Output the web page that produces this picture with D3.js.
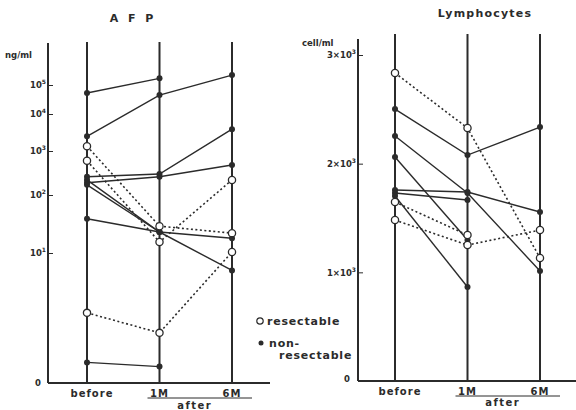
<!DOCTYPE html>
<html lang="en">
<head>
<meta charset="UTF-8">
<title>AFP and Lymphocytes</title>
<script src="https://cdnjs.cloudflare.com/ajax/libs/d3/7.8.5/d3.min.js"></script>
<style>
    body { margin: 0; background: #fff; }
    svg text { font-family: "DejaVu Sans", sans-serif; fill: #2b2b2b; }
</style>
</head>
<body>
<svg id="main" width="576" height="410"></svg>
<script>
    // time points, one column each
    const timepoints = ["before", "1M", "6M"];

    // AFP in ng/ml, one row per patient (null = not measured)
    const afpResectable = [
        [1350, 29, 22],
        [600, 15.5, 220],
        [0.93, 0.42, 10.4]
    ];
    const afpNonResectable = [
        [53000, 170000, null],
        [2500, 45000, 220000],
        [260, 300, 3900],
        [190, 260, 480],
        [220, 23, 18],
        [170, 23, null],
        [39, 23, 5],
        [0.13, 0.11, null]
    ];
    const afpTickExponents = [1, 2, 3, 4, 5];

    // lymphocytes in cells/ml
    const lymResectable = [
        [2834, 2328, 1132],
        [1647, 1343, null],
        [1481, 1251, 1389]
    ];
    const lymNonResectable = [
        [2502, 2079, 2337],
        [2254, 1730, 1012],
        [2061, 1297, null],
        [1757, 1739, 1555],
        [1730, 1665, null],
        [1702, 865, null]
    ];
    const lymTicks = [1000, 2000, 3000];

    const svg = d3.select("svg#main");
    const ink = "#2b2b2b";

    // AFP axis is a hand drawn log axis, decades are not evenly spaced
    const afpPos = d3.scaleLinear().domain([1, 2, 3, 4, 5]).range([253, 195, 151, 114, 85]);
    const afpY = v => afpPos(Math.log10(v));
    const lymY = d3.scaleLinear().domain([0, 3000]).range([381, 55]);

    const panels = [
        {
            title: "A F P", titleX: 133, titleY: 22, titleSpacing: 3,
            unit: "ng/ml", unitX: 5, unitY: 58,
            axisX: 48, top: 43, bottom: 383, right: 270, colTop: 42,
            x: d3.scalePoint().domain(timepoints).range([87, 232]),
            y: afpY, ticks: afpPos, tickValues: afpTickExponents,
            label: d => ["10", String(d)],
            zeroX: 38, zeroY: 386,
            res: afpResectable, non: afpNonResectable,
            labelY: 397, afterY: 409
        },
        {
            title: "Lymphocytes", titleX: 485, titleY: 17, titleSpacing: 1.2,
            unit: "cell/ml", unitX: 302, unitY: 46,
            axisX: 358, top: 39, bottom: 381, right: 576, colTop: 34,
            x: d3.scalePoint().domain(timepoints).range([395, 540]),
            y: lymY, ticks: lymY, tickValues: lymTicks,
            label: d => [(d / 1000) + "\u00d710", "3"],
            zeroX: 347, zeroY: 382,
            res: lymResectable, non: lymNonResectable,
            labelY: 395, afterY: 406
        }
    ];

    panels.forEach(p => {
        let g = svg.append("g");

        // title and unit
        g.append("text").attr("x", p.titleX).attr("y", p.titleY)
            .attr("text-anchor", "middle").attr("font-size", 11).attr("font-weight", "bold")
            .attr("letter-spacing", p.titleSpacing).text(p.title);
        g.append("text").attr("x", p.unitX).attr("y", p.unitY)
            .attr("font-size", 8.5).attr("font-weight", "bold").text(p.unit);

        // y axis
        g.append("line").attr("x1", p.axisX).attr("x2", p.axisX)
            .attr("y1", p.top).attr("y2", p.bottom)
            .attr("stroke", ink).attr("stroke-width", 2);
        let ax = g.append("g").attr("transform", "translate(" + p.axisX + ",0)")
            .call(d3.axisLeft(p.ticks).tickValues(p.tickValues)
                .tickSizeInner(-5).tickSizeOuter(0).tickPadding(2).tickFormat(""));
        ax.select(".domain").remove();
        ax.selectAll(".tick line").attr("stroke", ink).attr("stroke-width", 1);
        ax.selectAll(".tick text").each(function (d) {
            let parts = p.label(d);
            let t = d3.select(this).attr("font-size", 8.5).attr("font-weight", "bold")
                .attr("fill", ink).attr("font-family", "DejaVu Sans");
            t.append("tspan").text(parts[0]);
            t.append("tspan").attr("dy", -4).attr("font-size", 6).text(parts[1]);
        });
        g.append("text").attr("x", p.zeroX).attr("y", p.zeroY)
            .attr("text-anchor", "middle").attr("font-size", 8.5).attr("font-weight", "bold").text("0");

        // x axis and columns
        g.append("line").attr("x1", p.axisX).attr("x2", p.right)
            .attr("y1", p.bottom).attr("y2", p.bottom)
            .attr("stroke", ink).attr("stroke-width", 2);
        g.selectAll(".col").data(timepoints).enter().append("line")
            .attr("x1", d => p.x(d)).attr("x2", d => p.x(d))
            .attr("y1", p.colTop).attr("y2", p.bottom)
            .attr("stroke", ink).attr("stroke-width", 2);

        g.selectAll(".xlab").data(timepoints).enter().append("text")
            .attr("x", (d, i) => p.x(d) + (i == 0 ? 5 : 0)).attr("y", p.labelY)
            .attr("text-anchor", "middle").attr("font-size", 10).attr("font-weight", "bold")
            .attr("letter-spacing", 1).text(d => d);
        g.append("line").attr("x1", p.x("1M") - 12).attr("x2", p.x("6M") + 20)
            .attr("y1", p.labelY + 1).attr("y2", p.labelY + 1)
            .attr("stroke", ink).attr("stroke-width", 1);
        g.append("text").attr("x", (p.x("1M") + p.x("6M")) / 2 - 1).attr("y", p.afterY)
            .attr("text-anchor", "middle").attr("font-size", 10).attr("font-weight", "bold")
            .attr("letter-spacing", 1.5).text("after");

        // patient lines
        let line = d3.line()
            .defined(d => d != null)
            .x((d, i) => p.x(timepoints[i]))
            .y(d => p.y(d));

        g.selectAll(".nonLine").data(p.non).enter().append("path")
            .attr("d", line).attr("fill", "none")
            .attr("stroke", ink).attr("stroke-width", 1.4);
        g.selectAll(".resLine").data(p.res).enter().append("path")
            .attr("d", line).attr("fill", "none")
            .attr("stroke", ink).attr("stroke-width", 1.6)
            .attr("stroke-dasharray", "2,2.5");

        // points
        p.non.forEach(row => {
            row.forEach((v, i) => {
                if (v == null) return;
                g.append("circle").attr("cx", p.x(timepoints[i])).attr("cy", p.y(v))
                    .attr("r", 3).attr("fill", ink);
            });
        });
        p.res.forEach(row => {
            row.forEach((v, i) => {
                if (v == null) return;
                g.append("circle").attr("cx", p.x(timepoints[i])).attr("cy", p.y(v))
                    .attr("r", 3.6).attr("fill", "#fff")
                    .attr("stroke", ink).attr("stroke-width", 1.3);
            });
        });
    });

    // legend
    let legend = svg.append("g").attr("transform", "translate(260,321)");
    legend.append("circle").attr("cx", 0).attr("cy", 0).attr("r", 3.2)
        .attr("fill", "#fff").attr("stroke", ink).attr("stroke-width", 1.2);
    legend.append("text").attr("x", 7).attr("y", 4)
        .attr("font-size", 11).attr("font-weight", "bold").attr("letter-spacing", 0.8)
        .text("resectable");
    legend.append("circle").attr("cx", 1).attr("cy", 22).attr("r", 2.5).attr("fill", ink);
    legend.append("text").attr("x", 9).attr("y", 26)
        .attr("font-size", 11).attr("font-weight", "bold").attr("letter-spacing", 0.8)
        .text("non-");
    legend.append("text").attr("x", 19).attr("y", 38)
        .attr("font-size", 11).attr("font-weight", "bold").attr("letter-spacing", 0.8)
        .text("resectable");
</script>
</body>
</html>
